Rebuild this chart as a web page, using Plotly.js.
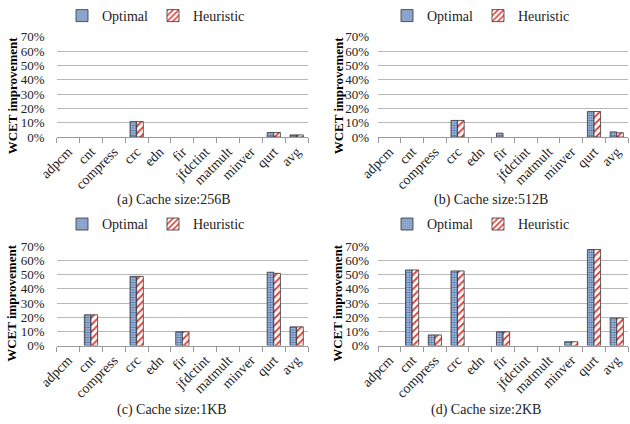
<!DOCTYPE html>
<html>
<head>
<meta charset="utf-8">
<script src="https://cdn.plot.ly/plotly-3.0.1.min.js"></script>
<style>html,body{margin:0;padding:0;background:#fff;}#chart{width:630px;height:424px;}</style>
</head>
<body>
<div id="chart"></div>
<script>
const categories = ["adpcm","cnt","compress","crc","edn","fir","jfdctint","matmult","minver","qurt","avg"];
const optimal256  = [0, 0, 0, 10.8, 0, 0, 0, 0, 0, 3.2, 1.5];
const heuristic256 = [0, 0, 0, 10.8, 0, 0, 0, 0, 0, 3.2, 1.5];
const optimal512  = [0, 0, 0, 11.6, 0, 2.7, 0, 0, 0, 17.8, 3.6];
const heuristic512 = [0, 0, 0, 11.6, 0, 0, 0, 0, 0, 17.8, 3.0];
const optimal1K   = [0, 21.7, 0, 48.8, 0, 9.7, 0, 0, 0, 51.7, 13.2];
const heuristic1K  = [0, 21.7, 0, 48.8, 0, 9.7, 0, 0, 0, 50.9, 13.2];
const optimal2K   = [0, 53.3, 7.5, 52.6, 0, 9.7, 0, 0, 2.7, 67.7, 19.4];
const heuristic2K  = [0, 53.3, 7.5, 52.6, 0, 9.7, 0, 0, 2.7, 67.7, 19.4];
const captions = ["(a) Cache size:256B","(b) Cache size:512B","(c) Cache size:1KB","(d) Cache size:2KB"];
const seriesNames = ["Optimal","Heuristic"];
const yTitle = "WCET improvement";

const FONT = "Liberation Serif";
const panels = [
  {opt: optimal256, heu: heuristic256, xd:[0.0900,0.489], yd:[0.6816,0.9198], cx:174, cy:198, lx:156, ly:13,  tx:12,  ty:93,  so:11},
  {opt: optimal512, heu: heuristic512, xd:[0.600,0.997], yd:[0.6816,0.9198], cx:491, cy:198, lx:481, ly:13,  tx:338, ty:93,  so:8},
  {opt: optimal1K,  heu: heuristic1K,  xd:[0.0900,0.489], yd:[0.1863,0.4222], cx:172, cy:410, lx:156, ly:223, tx:12,  ty:302, so:11},
  {opt: optimal2K,  heu: heuristic2K,  xd:[0.600,0.997], yd:[0.1863,0.4222], cx:486, cy:410, lx:481, ly:223, tx:338, ty:302, so:8}
];

const W = 630, H = 424;
const nz = arr => arr.map(v => (v === 0 ? null : v));
const traces = [];
const layout = {
  width: W, height: H,
  margin: {l:0, r:0, t:0, b:0},
  paper_bgcolor: "#fff", plot_bgcolor: "#fff",
  font: {family: FONT, size: 13, color: "#222"},
  barmode: "group", bargap: 0.42, bargroupgap: 0,
  annotations: []
};

panels.forEach((p, i) => {
  const n = i + 1;
  const xa = n === 1 ? "x" : "x" + n;
  const ya = n === 1 ? "y" : "y" + n;
  const lg = n === 1 ? "legend" : "legend" + n;
  traces.push({
    type: "bar", name: seriesNames[0], x: categories, y: nz(p.opt),
    xaxis: xa, yaxis: ya, legend: lg, offsetgroup: "o",
    marker: {color: "#c6d9f1", line: {color: "#333", width: 0.8},
             pattern: {shape: ".", fgcolor: "#4f6fa8", bgcolor: "#c6d9f1", size: 2.5, solidity: 0.55}},
    hoverinfo: "skip"
  });
  traces.push({
    type: "bar", name: seriesNames[1], x: categories, y: nz(p.heu),
    xaxis: xa, yaxis: ya, legend: lg, offsetgroup: "h",
    marker: {color: "#ffffff", line: {color: "#333", width: 0.8},
             pattern: {shape: "/", fgcolor: "#e0443c", bgcolor: "#ffffff", size: 5, solidity: 0.4}},
    hoverinfo: "skip"
  });
  const xk = n === 1 ? "xaxis" : "xaxis" + n;
  const yk = n === 1 ? "yaxis" : "yaxis" + n;
  layout[xk] = {
    domain: p.xd, anchor: ya, type: "category",
    tickangle: -45, tickson: "boundaries", ticks: "outside", ticklen: 5, tickcolor: "#999",
    showline: true, linecolor: "#999", linewidth: 1, showgrid: false,
    tickfont: {family: FONT, size: 14, color: "#222"}, fixedrange: true
  };
  layout[yk] = {
    domain: p.yd, anchor: xa, range: [0, 70], dtick: 10, ticksuffix: "%",
    showgrid: true, gridcolor: "#b8b8b8", gridwidth: 1, zeroline: false, showline: false,
    ticks: "", ticklabelstandoff: p.so, tickfont: {family: FONT, size: 13, color: "#222"},
    fixedrange: true
  };
  layout[lg] = {
    orientation: "h", x: p.lx / W, y: 1 - p.ly / H, xanchor: "center", yanchor: "middle",
    xref: "paper", yref: "paper",
    font: {family: FONT, size: 14, color: "#222"}, bgcolor: "rgba(0,0,0,0)",
    itemwidth: 30, tracegroupgap: 0, traceorder: "normal"
  };
  layout.annotations.push({
    text: captions[i], xref: "paper", yref: "paper", x: p.cx / W, y: 1 - p.cy / H,
    xanchor: "center", yanchor: "middle", showarrow: false,
    font: {family: FONT, size: 14, color: "#222"}
  });
  layout.annotations.push({
    text: "<b>" + yTitle + "</b>", xref: "paper", yref: "paper", x: p.tx / W, y: 1 - p.ty / H,
    xanchor: "center", yanchor: "middle", showarrow: false, textangle: -90,
    font: {family: FONT, size: 13, color: "#000"}
  });
});

Plotly.newPlot("chart", traces, layout, {displayModeBar: false, staticPlot: true});
</script>
</body>
</html>
